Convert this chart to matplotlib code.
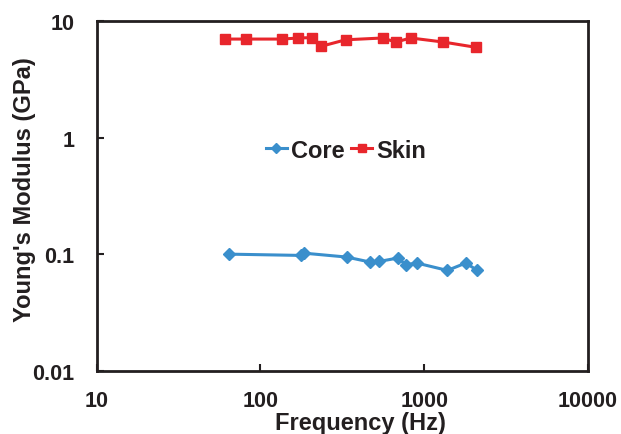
import matplotlib
matplotlib.use("Agg")
import matplotlib.pyplot as plt
from matplotlib.ticker import FixedLocator, NullLocator, FixedFormatter

plt.rcParams['font.family'] = ['Liberation Sans', 'DejaVu Sans']
plt.rcParams['font.weight'] = 'bold'

core_freq = [64, 177, 184, 336, 466, 532, 689, 774, 900, 1384, 1793, 2110]
core_mod = [0.100, 0.0975, 0.102, 0.0944, 0.0856, 0.0866, 0.0926, 0.0811, 0.0839, 0.0725, 0.0839, 0.0725]

skin_freq = [61, 82, 136, 170, 205, 233, 331, 557, 670, 827, 1309, 2065]
skin_mod = [7.0, 7.0, 7.0, 7.15, 7.2, 6.05, 6.9, 7.15, 6.6, 7.15, 6.6, 5.95]

x_ticks = [10, 100, 1000, 10000]
x_labels = ['10', '100', '1000', '10000']
y_ticks = [0.01, 0.1, 1, 10]
y_labels = ['0.01', '0.1', '1', '10']

fig = plt.figure(figsize=(6.21, 4.35), dpi=100)
ax = fig.add_axes([0.1557, 0.1455, 0.7912, 0.8039])

ax.plot(core_freq, core_mod, color='#3A8FCC', lw=2.2, marker='D', ms=6.5, label='Core')
ax.plot(skin_freq, skin_mod, color='#E8262C', lw=2.2, marker='s', ms=7, label='Skin')

ax.set_xscale('log')
ax.set_yscale('log')
ax.set_xlim(10, 10000)
ax.set_ylim(0.01, 10)
ax.xaxis.set_major_locator(FixedLocator(x_ticks))
ax.xaxis.set_major_formatter(FixedFormatter(x_labels))
ax.yaxis.set_major_locator(FixedLocator(y_ticks))
ax.yaxis.set_major_formatter(FixedFormatter(y_labels))
ax.xaxis.set_minor_locator(NullLocator())
ax.yaxis.set_minor_locator(NullLocator())
ax.tick_params(direction='in', length=5, width=1.5, labelsize=15.5, colors='#231F20')
ax.tick_params(axis='y', pad=16)
ax.tick_params(axis='x', pad=14)
for s in ax.spines.values():
    s.set_linewidth(2)
    s.set_color('#231F20')

ax.set_xlabel('Frequency (Hz)', fontsize=17, fontweight='bold', color='#231F20', labelpad=0)
ax.set_ylabel("Young's Modulus (GPa)", fontsize=17, fontweight='bold', color='#231F20', labelpad=-2.5)
ax.xaxis.label.set_x(0.536)
ax.yaxis.label.set_y(0.52)

leg = ax.legend(loc='center', bbox_to_anchor=(0.507, 0.631), ncol=2, frameon=False,
                fontsize=17, handlelength=0.9, handletextpad=0.15, columnspacing=0.3,
                markerscale=0.8, borderpad=0, borderaxespad=0)
for t in leg.get_texts():
    t.set_color('#231F20')

fig.savefig('out.png', dpi=100)
